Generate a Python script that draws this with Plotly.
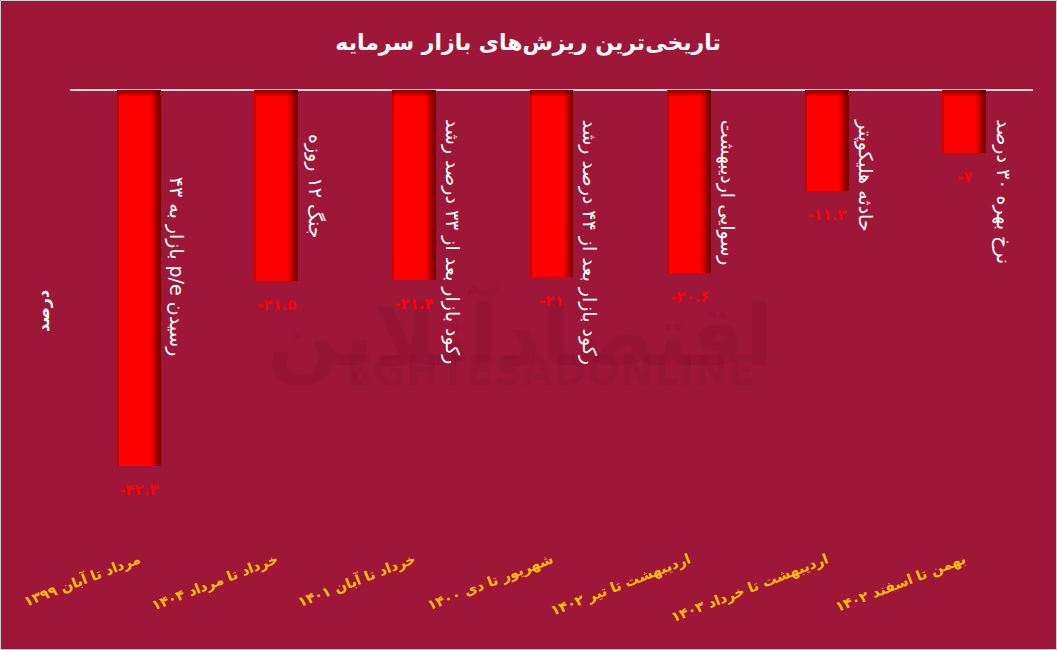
import plotly.graph_objects as go

# ---------------- data ----------------
categories = [
    "مرداد تا آبان ۱۳۹۹",
    "خرداد تا مرداد ۱۴۰۴",
    "خرداد تا آبان ۱۴۰۱",
    "شهریور تا دی ۱۴۰۰",
    "اردیبهشت تا تیر ۱۴۰۲",
    "اردیبهشت تا خرداد ۱۴۰۳",
    "بهمن تا اسفند ۱۴۰۲",
]
values = [-42.3, -21.5, -21.4, -21.0, -20.6, -11.3, -7.0]
events = [
    "رسیدن p/e بازار به ۴۳",
    "جنگ ۱۲ روزه",
    "رکود بازار بعد از ۳۳ درصد رشد",
    "رکود بازار بعد از ۴۴ درصد رشد",
    "رسوایی اردیبهشت",
    "حادثه هلیکوپتر",
    "نرخ بهره ۳۰ درصد",
]
title_text = "تاریخی‌ترین ریزش‌های بازار سرمایه"
y_title = "درصد"

# ---------------- styling ----------------
BG = "#9e1739"
FONT = "DejaVu Sans"
W_PX, H_PX = 1057, 650
M_L, M_R, M_T, M_B = 70, 24, 90, 102
plot_w = W_PX - M_L - M_R
plot_h = H_PX - M_T - M_B
Y_MIN, Y_MAX = -51.6, 0.05
px_per_unit = plot_h / (Y_MAX - Y_MIN)
px_per_cat = plot_w / len(categories)

RLE, PDF = "\u202b", "\u202c"


def rtl(s):
    return RLE + s + PDF


fa_digits = str.maketrans("0123456789", "۰۱۲۳۴۵۶۷۸۹")


def fa_num(v):
    s = f"{abs(v):.1f}".rstrip("0").rstrip(".")
    return "-" + s.translate(fa_digits)


x = list(range(len(categories)))
bar_w = 43 / px_per_cat

fig = go.Figure()

# main bars
fig.add_trace(go.Bar(x=x, y=values, width=bar_w, offset=-bar_w / 2,
                     marker=dict(color="#ff0000", line=dict(width=0)),
                     hoverinfo="skip", showlegend=False))

# right-edge darker gradient stripes
stripe = 1 / px_per_cat
n_str = 9
for k in range(n_str):
    t = (k + 1) / n_str
    r = int(255 - t * (255 - 120))
    col = f"rgb({r},0,0)"
    off = bar_w / 2 - (n_str - k) * stripe
    fig.add_trace(go.Bar(x=x, y=values, width=stripe, offset=off,
                         marker=dict(color=col, line=dict(width=0)),
                         hoverinfo="skip", showlegend=False))
# left-edge subtle dark stripe
fig.add_trace(go.Bar(x=x, y=values, width=stripe * 1.5, offset=-bar_w / 2,
                     marker=dict(color="#d00000", line=dict(width=0)),
                     hoverinfo="skip", showlegend=False))
# top-edge darkening
for k in range(1, 7):
    h = k / px_per_unit
    fig.add_trace(go.Bar(x=x, y=[-h] * len(x), width=bar_w, offset=-bar_w / 2,
                         marker=dict(color="rgba(70,0,0,0.13)", line=dict(width=0)),
                         hoverinfo="skip", showlegend=False))

annotations = []
# watermark (drawn first so it sits under other texts)
annotations.append(dict(x=(520 - M_L) / plot_w, y=(M_T + plot_h - 335) / plot_h, xref="paper", yref="paper",
                        text="<b>" + rtl("اقتصادآنلاین") + "</b>",
                        showarrow=False, font=dict(family=FONT, size=84, color="rgba(60,0,20,0.08)")))
annotations.append(dict(x=(550 - M_L) / plot_w, y=(M_T + plot_h - 396) / plot_h, xref="paper", yref="paper",
                        text="<b>EGHTESADONLINE</b>",
                        showarrow=False, font=dict(family=FONT, size=40, color="rgba(60,0,20,0.08)")))
# value labels
for xi, v in zip(x, values):
    annotations.append(dict(x=xi, y=v, xref="x", yref="y", text="<b>" + fa_num(v) + "</b>",
                            showarrow=False, yshift=-24, xanchor="center", yanchor="middle",
                            font=dict(family=FONT, size=15, color="#ff0000")))
# event labels (rotated)
for xi, v, ev in zip(x, values, events):
    center_px = abs(v) * px_per_unit / 2
    est_len = len(ev) * 9.8
    top_px = max(center_px - est_len / 2, 27)
    annotations.append(dict(x=xi + 0.28, y=-top_px / px_per_unit, xref="x", yref="y",
                            text=rtl(ev), showarrow=False, textangle=90,
                            xanchor="center", yanchor="top",
                            font=dict(family=FONT, size=19, color="#ffffff")))
# y-axis title
annotations.append(dict(x=(43 - M_L) / plot_w, y=(M_T + plot_h - 311) / plot_h, xref="paper", yref="paper",
                        xanchor="center", yanchor="middle",
                        text="<b>" + rtl(y_title) + "</b>", showarrow=False, textangle=-90,
                        font=dict(family=FONT, size=16, color="#ffffff")))

fig.update_layout(
    width=W_PX, height=H_PX,
    paper_bgcolor=BG, plot_bgcolor=BG,
    margin=dict(l=M_L, r=M_R, t=M_T, b=M_B),
    barmode="overlay", bargap=0,
    title=dict(text="<b>" + rtl(title_text) + "</b>", x=528 / W_PX, xanchor="center",
               y=1 - 42 / H_PX, yanchor="middle",
               font=dict(family=FONT, size=22, color="#ffffff")),
    xaxis=dict(range=[-0.5, len(x) - 0.5], tickvals=x, ticktext=[rtl(c) for c in categories],
               tickangle=-21, showgrid=False, zeroline=False, showline=False,
               ticks="", tickfont=dict(family=FONT, size=14, color="#ffc000", weight="bold")),
    yaxis=dict(range=[Y_MIN, Y_MAX], showgrid=False, showticklabels=False, ticks="",
               zeroline=True, zerolinecolor="#d9d9d9", zerolinewidth=2, showline=False),
    annotations=annotations,
    shapes=[dict(type="rect", xref="paper", yref="paper",
                 x0=-(M_L - 0.5) / plot_w, x1=1 + (M_R - 0.5) / plot_w,
                 y0=-(M_B - 0.5) / plot_h, y1=1 + (M_T - 0.5) / plot_h,
                 line=dict(color="#d0d0d0", width=1), layer="above")],
)

fig.write_html("out.html", config={"displayModeBar": False},
               post_script="document.body.style.margin='0';document.body.style.background='" + BG + "';")
